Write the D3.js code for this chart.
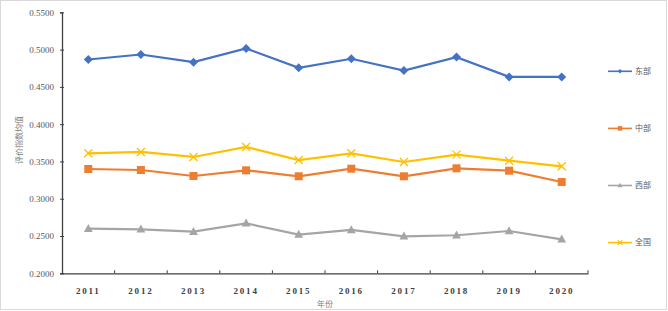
<!DOCTYPE html>
<html>
<head>
<meta charset="utf-8">
<script src="https://cdn.jsdelivr.net/npm/d3@7"></script>
<style>
  body { margin: 0; background: #fff; }
  svg { display: block; }
</style>
</head>
<body>
<svg id="chart"></svg>
<script>
var years = ["2011", "2012", "2013", "2014", "2015", "2016", "2017", "2018", "2019", "2020"];
var seriesNames = ["东部", "中部", "西部", "全国"];
var east = [0.4867, 0.4934, 0.4831, 0.5015, 0.4755, 0.4877, 0.4719, 0.4899, 0.4634, 0.4634];
var central = [0.3399, 0.3385, 0.3305, 0.3381, 0.3301, 0.3403, 0.3301, 0.3408, 0.3376, 0.3224];
var west = [0.2598, 0.2590, 0.2558, 0.2670, 0.2518, 0.2581, 0.2496, 0.2510, 0.2567, 0.2456];
var national = [0.3609, 0.3627, 0.3560, 0.3694, 0.3519, 0.3609, 0.3493, 0.3591, 0.3510, 0.3435];
var yTicks = [0.20, 0.25, 0.30, 0.35, 0.40, 0.45, 0.50, 0.55];

var width = 668, height = 311;
var margin = {top: 12.3, left: 62, right: 80, bottom: 37.7};
var chartWidth = 588 - margin.left;
var chartHeight = 273.3 - margin.top;

var series = [
    {name: seriesNames[0], values: east, color: "#4472C4", shape: "diamond"},
    {name: seriesNames[1], values: central, color: "#ED7D31", shape: "square"},
    {name: seriesNames[2], values: west, color: "#A5A5A5", shape: "triangle"},
    {name: seriesNames[3], values: national, color: "#FFC000", shape: "cross"}
];

var svg = d3.select("#chart")
    .attr("width", width)
    .attr("height", height);

// light frame round the picture
svg.append("rect")
    .attr("x", 0.5).attr("y", 0.5)
    .attr("width", width - 2).attr("height", height - 2)
    .attr("fill", "#fff")
    .attr("stroke", "#d9d9d9");

var chartArea = svg.append("g")
    .attr("transform", `translate(${margin.left},${margin.top})`);

var xScale = d3.scaleBand()
    .domain(years)
    .range([0, chartWidth]);

var yScale = d3.scaleLinear()
    .domain([0.2, 0.55])
    .range([chartHeight, 0]);

// y axis
var yAxis = chartArea.append("g")
    .call(d3.axisLeft(yScale).tickValues(yTicks).tickSize(2).tickPadding(6).tickFormat(d3.format(".4f")));
yAxis.select(".domain").attr("stroke", "#404040").attr("stroke-width", 1.3);
yAxis.selectAll(".tick line").attr("stroke", "#404040").attr("x2", 2).attr("x1", -2);
yAxis.selectAll("text")
    .attr("font-family", "Liberation Serif, serif")
    .attr("font-size", 9)
    .attr("fill", "#595959");

// x axis, tick marks between categories
var xAxis = chartArea.append("g")
    .attr("transform", `translate(0,${chartHeight})`)
    .call(d3.axisBottom(xScale).tickSize(0).tickPadding(14));
xAxis.select(".domain").attr("stroke", "#404040").attr("stroke-width", 1.3);
xAxis.selectAll("text")
    .attr("font-family", "Liberation Serif, serif")
    .attr("font-size", 9)
    .attr("font-weight", "bold")
    .attr("letter-spacing", "1.8px")
    .attr("fill", "#404040");
xAxis.selectAll(".sep")
    .data(d3.range(1, years.length + 1))
    .enter()
    .append("line")
    .attr("x1", d => d * xScale.step())
    .attr("x2", d => d * xScale.step())
    .attr("y1", 0)
    .attr("y2", -3)
    .attr("stroke", "#404040");

var line = d3.line()
    .x((d, i) => xScale(years[i]) + xScale.bandwidth() / 2)
    .y(d => yScale(d));

function marker(g, shape, color, size) {
    var h = size / 2;
    if (shape == "diamond") {
        g.append("path")
            .attr("d", `M0,${-h}L${h},0L0,${h}L${-h},0Z`)
            .attr("fill", color);
    } else if (shape == "square") {
        g.append("rect")
            .attr("x", -h).attr("y", -h)
            .attr("width", size).attr("height", size)
            .attr("fill", color);
    } else if (shape == "triangle") {
        g.append("path")
            .attr("d", `M0,${-size * 0.6}L${size * 0.55},${size * 0.4}L${-size * 0.55},${size * 0.4}Z`)
            .attr("fill", color);
    } else {
        g.append("path")
            .attr("d", `M${-h},${-h}L${h},${h}M${-h},${h}L${h},${-h}`)
            .attr("stroke", color)
            .attr("stroke-width", 1.3)
            .attr("fill", "none");
    }
}

series.forEach(function (s) {
    chartArea.append("path")
        .datum(s.values)
        .attr("fill", "none")
        .attr("stroke", s.color)
        .attr("stroke-width", 2.2)
        .attr("d", line);

    chartArea.append("g").selectAll("g")
        .data(s.values)
        .enter()
        .append("g")
        .attr("transform", (d, i) => `translate(${xScale(years[i]) + xScale.bandwidth() / 2},${yScale(d)})`)
        .each(function () {
            marker(d3.select(this), s.shape, s.color, s.shape == "diamond" ? 9 : 8);
        });
});

// legend
var legend = svg.append("g")
    .attr("transform", "translate(608,71.3)");

series.forEach(function (s, i) {
    var item = legend.append("g")
        .attr("transform", `translate(0,${i * 57.1})`);
    item.append("line")
        .attr("x1", 0).attr("x2", 24)
        .attr("stroke", s.color)
        .attr("stroke-width", 1.6);
    var m = item.append("g").attr("transform", "translate(12,0)");
    marker(m, s.shape, s.color, 4.5);
    item.append("text")
        .attr("x", 27)
        .attr("dy", "0.35em")
        .attr("font-family", "Noto Sans CJK SC, sans-serif")
        .attr("font-size", 8)
        .attr("fill", "#595959")
        .text(s.name);
});

// axis titles
svg.append("text")
    .attr("transform", "translate(22,140) rotate(-90)")
    .attr("text-anchor", "middle")
    .attr("font-family", "Noto Sans CJK SC, sans-serif")
    .attr("font-size", 8)
    .attr("fill", "#808080")
    .text("评价指数均值");

svg.append("text")
    .attr("x", 325)
    .attr("y", 307)
    .attr("text-anchor", "middle")
    .attr("font-family", "Noto Sans CJK SC, sans-serif")
    .attr("font-size", 8)
    .attr("fill", "#808080")
    .text("年份");
</script>
</body>
</html>
